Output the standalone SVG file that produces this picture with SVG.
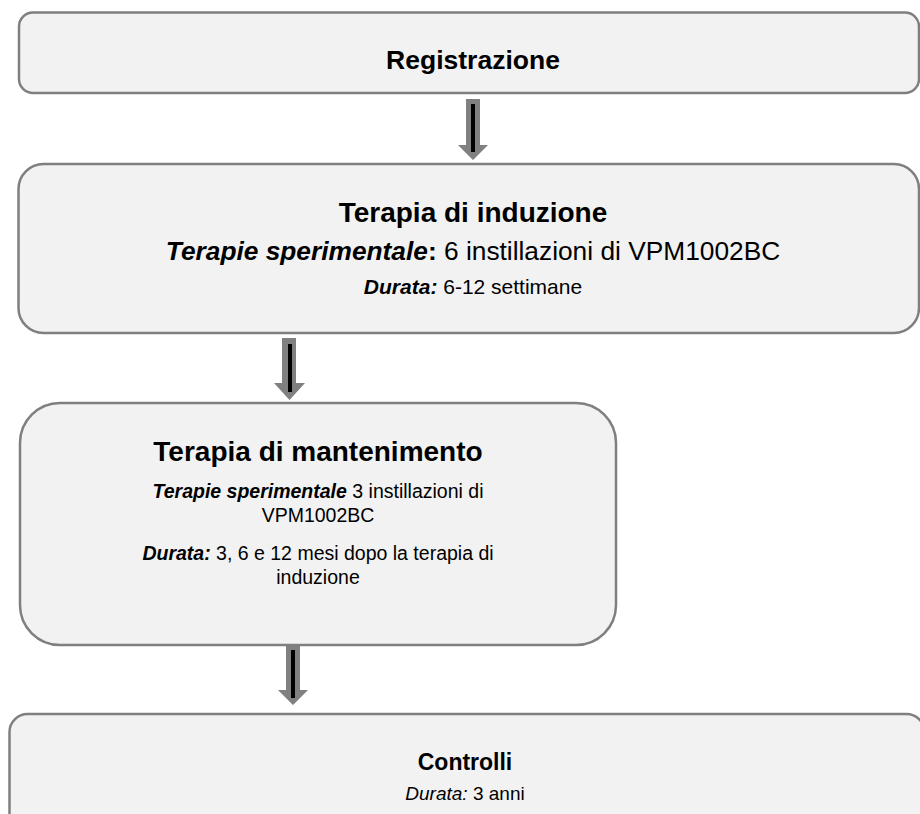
<svg xmlns="http://www.w3.org/2000/svg" width="920" height="814" viewBox="0 0 920 814">
<style>
.box{fill:#f2f2f2;stroke:#7f7f7f;stroke-width:2.5}
text{font-family:"Liberation Sans",Arial,sans-serif;fill:#000;text-anchor:middle}
.t{font-size:28px;font-weight:bold}
.bi{font-weight:bold;font-style:italic}
.i{font-style:italic}
.bo{font-weight:bold}
.sh{fill:#808080}
.ln{stroke:#000;stroke-width:4}
</style>
<rect width="920" height="814" fill="#fff"/>
<g id="connectors">
<g><path class="sh" d="M466,99 H480 V145 H488 L473,160 L458,145 H466 Z"/><line class="ln" x1="473" y1="104" x2="473" y2="152"/></g>
<g><path class="sh" d="M282,338 H296 V383 H305 L289.5,400 L274,383 H282 Z"/><line class="ln" x1="290" y1="344" x2="290" y2="392"/></g>
<g><path class="sh" d="M286,645 H300 V690 H308 L293,705 L278,690 H286 Z"/><line class="ln" x1="293" y1="650" x2="293" y2="698"/></g>
</g>
<g id="registrazione">
<rect class="box" x="19" y="12.5" width="900" height="80.5" rx="14"/>
<text class="bo" x="473" y="69" font-size="26.5">Registrazione</text>
</g>
<g id="induzione">
<rect class="box" x="18.5" y="164" width="900.5" height="169" rx="25"/>
<text class="t" x="473" y="222">Terapia di induzione</text>
<text x="473" y="260" font-size="26.3"><tspan class="bi">Terapie sperimentale</tspan><tspan class="bo">:</tspan> 6 instillazioni di VPM1002BC</text>
<text x="473" y="294" font-size="21"><tspan class="bi">Durata:</tspan> 6-12 settimane</text>
</g>
<g id="mantenimento">
<rect class="box" x="20" y="403" width="596" height="242" rx="40"/>
<text class="t" x="318" y="461">Terapia di mantenimento</text>
<text x="318" y="498" font-size="19.5"><tspan class="bi">Terapie sperimentale</tspan> 3 instillazioni di</text>
<text x="318" y="522" font-size="19.5">VPM1002BC</text>
<text x="318" y="560" font-size="19.5"><tspan class="bi">Durata:</tspan> 3, 6 e 12 mesi dopo la terapia di</text>
<text x="318" y="584" font-size="19.5">induzione</text>
</g>
<g id="controlli">
<rect class="box" x="9.5" y="714" width="915" height="130" rx="18"/>
<text class="bo" x="465" y="770" font-size="23">Controlli</text>
<text x="465" y="800" font-size="19"><tspan class="i">Durata:</tspan> 3 anni</text>
</g>
</svg>
